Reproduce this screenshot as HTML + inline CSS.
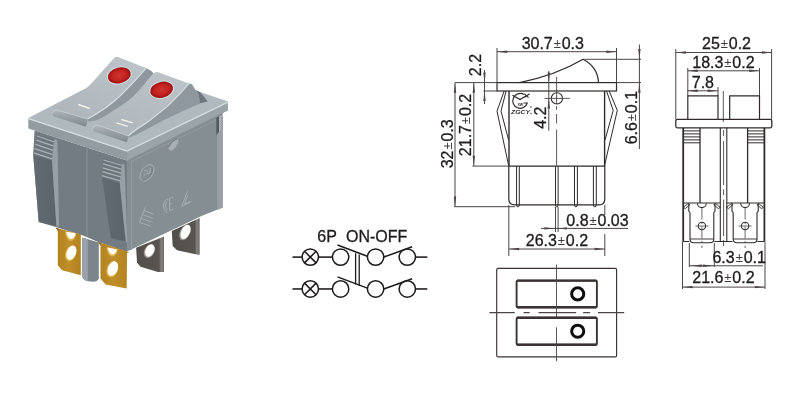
<!DOCTYPE html>
<html><head><meta charset="utf-8"><style>
html,body{margin:0;padding:0;background:#fff;overflow:hidden}
svg{display:block;will-change:transform}
text{font-family:"Liberation Sans",sans-serif}
</style></head><body>
<svg width="800" height="402" viewBox="0 0 800 402">
<rect width="800" height="402" fill="#fff"/>
<defs>
<linearGradient id="gTop1" x1="0" y1="1" x2="0.7" y2="0"><stop offset="0" stop-color="#adb5ba"/><stop offset="1" stop-color="#bcc3c8"/></linearGradient>
<linearGradient id="gTop2" x1="0" y1="1" x2="0.7" y2="0"><stop offset="0" stop-color="#adb5ba"/><stop offset="1" stop-color="#bcc3c8"/></linearGradient>
<linearGradient id="gLip" x1="0" y1="0" x2="0" y2="1"><stop offset="0" stop-color="#b2babf"/><stop offset="0.3" stop-color="#a0a8ae"/><stop offset="1" stop-color="#7f888e"/></linearGradient>
<radialGradient id="gLamp" cx="0.5" cy="0.5" r="0.5"><stop offset="0" stop-color="#cf3530"/><stop offset="0.65" stop-color="#c2221e"/><stop offset="1" stop-color="#981010"/></radialGradient>
<linearGradient id="gGold" x1="0" y1="0" x2="1" y2="0"><stop offset="0" stop-color="#b0811f"/><stop offset="0.5" stop-color="#bf8e2b"/><stop offset="1" stop-color="#b2821f"/></linearGradient>
<linearGradient id="gSil" x1="0" y1="0" x2="1" y2="0"><stop offset="0" stop-color="#524f4b"/><stop offset="0.82" stop-color="#585551"/><stop offset="0.9" stop-color="#85827d"/><stop offset="1" stop-color="#6d6a66"/></linearGradient>
<linearGradient id="gPost" x1="0" y1="0" x2="1" y2="0"><stop offset="0" stop-color="#9aa3a9"/><stop offset="0.4" stop-color="#8a939a"/><stop offset="1" stop-color="#737c83"/></linearGradient>
<linearGradient id="gClip" x1="0" y1="0" x2="1" y2="0"><stop offset="0" stop-color="#646c73"/><stop offset="1" stop-color="#5a626a"/></linearGradient>
</defs>
<polygon points="36.5,131 127,160.5 127,252 97,241.4 83.7,235.8 55.7,226.9 38.7,222 33.2,154 34.5,131" fill="#737c82" />
<line x1="87" y1="146" x2="87" y2="237" stroke="#7f8990" stroke-width="1.6"/>
<polygon points="127,150.5 228,101.5 228,110.5 222.7,113 222.7,207.5 201.5,216 127,251.5" fill="#858f93" />
<polyline points="131.5,250 131.5,161.5 216,120" fill="none" stroke="#939ca2" stroke-width="0.9"/>
<polygon points="28.3,118 127,150.5 127,160.5 28.3,128.5" fill="#929ca1" />
<polygon points="127,150.5 228,101.5 228,110.3 127,160.5" fill="#9aa4a9" />
<polygon points="37,134 55,139.5 53.5,160.5 33.2,154" fill="#6c757c" />
<line x1="37.0" y1="136.0" x2="54.5" y2="142.0" stroke="#a9b1b6" stroke-width="1.3"/>
<line x1="36.2" y1="140.2" x2="53.9" y2="146.2" stroke="#a9b1b6" stroke-width="1.3"/>
<line x1="35.4" y1="144.4" x2="53.3" y2="150.4" stroke="#a9b1b6" stroke-width="1.3"/>
<line x1="34.6" y1="148.6" x2="52.7" y2="154.6" stroke="#a9b1b6" stroke-width="1.3"/>
<line x1="33.8" y1="152.8" x2="52.1" y2="158.8" stroke="#a9b1b6" stroke-width="1.3"/>
<polygon points="33.2,154.5 52,160.5 56.4,226 38.7,222" fill="url(#gClip)" />
<polygon points="52,160.5 54.2,139 57.5,140.5 59,227 56.4,226" fill="#96a0a6" />
<polygon points="103.4,158 122.7,164 121.3,183.2 101.9,177.2" fill="#6c757c" />
<line x1="103.5" y1="160.0" x2="122.5" y2="165.5" stroke="#a9b1b6" stroke-width="1.3"/>
<line x1="103.1" y1="163.9" x2="122.2" y2="169.4" stroke="#a9b1b6" stroke-width="1.3"/>
<line x1="102.7" y1="167.8" x2="121.9" y2="173.3" stroke="#a9b1b6" stroke-width="1.3"/>
<line x1="102.3" y1="171.7" x2="121.6" y2="177.2" stroke="#a9b1b6" stroke-width="1.3"/>
<line x1="101.9" y1="175.6" x2="121.3" y2="181.1" stroke="#a9b1b6" stroke-width="1.3"/>
<polygon points="101.9,177.2 119.8,183.2 125.7,241.2 110.8,238.2" fill="url(#gClip)" />
<polygon points="119.8,183.2 122,163.8 124.5,164.5 127.4,244 125.7,241.2" fill="#96a0a6" />
<polygon points="217.3,131 222.7,129 222.7,207.5 217.3,210" fill="#97a0a6" />
<polygon points="216.3,117.7 219,116.5 219,131.5 216.3,135.5" fill="#525a61" />
<polygon points="219,116.5 222.7,114.5 222.7,129.5 219,131.5" fill="#a9b1b6" />
<line x1="221.3" y1="117.5" x2="222.9" y2="118.8" stroke="#69727a" stroke-width="0.8"/>
<line x1="221.3" y1="120.1" x2="222.9" y2="121.39999999999999" stroke="#69727a" stroke-width="0.8"/>
<line x1="221.3" y1="122.7" x2="222.9" y2="124.0" stroke="#69727a" stroke-width="0.8"/>
<line x1="221.3" y1="125.3" x2="222.9" y2="126.6" stroke="#69727a" stroke-width="0.8"/>
<line x1="221.3" y1="127.9" x2="222.9" y2="129.20000000000002" stroke="#69727a" stroke-width="0.8"/>
<polygon points="28.3,118 127,67 228,101.5 127,150.5" fill="#b0b9be" />
<polyline points="28.3,118.6 127,151.1 228,102.1" fill="none" stroke="#d4dde1" stroke-width="1.3"/>
<path d="M145.9,68 L151.4,70.9 L153.6,73.6 L147.6,80 C144,85 139,91 134.9,94.9 C131,98.5 126,102.5 120,106.9 C114,110.5 107,115 102.5,117.4 L95,120.7 L88,121.5 L88,118.8 C102,111 112,103.5 120,96 C131,85 141,74 145.9,68 Z" fill="#8f989e" />
<path d="M55,109.5 C66,102 80,95 87,88 C95,80 104,69 114.7,57.6 Q116,56.3 118,56.9 L145.9,68 C141,74 131,85 120,96 C112,103.5 102,111 88,118.8 Z" fill="url(#gTop1)" />
<path d="M145.9,68.3 C141,74 131,85 120,96 C112,103.5 102,111 88,118.8" fill="none" stroke="#d4dde1" stroke-width="1.25"/>
<path d="M55,109.5 L88,118.8 L86,126.8 L54,116.5 Q50.5,114.5 55,109.5 Z" fill="url(#gLip)" />
<path d="M52.5,113 Q52.5,110 56,109.8 L88,119" fill="none" stroke="#c6cdd1" stroke-width="0.9"/>
<path d="M97,124.6 C100,121 104,117.5 109.9,112.9 C115,109.5 121,106 127.5,101.6 C134,96 142,88 147.6,80 L153.6,73.6 Q155,71.8 157.5,72.1 L188.9,83.5 C184,89.5 176,98 170,103.9 C163,110.5 152,118.5 144.9,123.9 C139,127.5 132,132 128.5,136 Z" fill="url(#gTop2)" />
<path d="M188.9,83.5 L191.8,84 L198.8,94.9 L200,103.5 L182,111.5 L165,119.5 L135,135.3 L129,137.5 L128.5,136 C132,132 139,127.5 144.9,123.9 C152,118.5 163,110.5 170,103.9 C176,98 184,89.5 188.9,83.5 Z" fill="#8f989e" />
<path d="M188.9,83.7 C184,89.5 176,98 170,103.9 C163,110.5 152,118.5 144.9,123.9 C139,127.5 132,132 128.5,136" fill="none" stroke="#d4dde1" stroke-width="1.25"/>
<polygon points="196,90 200.5,92.5 207.7,101.5 200,103.2 198.8,94.9" fill="#6d767d" />
<path d="M97.5,124.9 L128.8,135.9 L126.8,142.3 L94,131.4 Q91,128 97.5,124.9 Z" fill="url(#gLip)" />
<path d="M92.5,128.5 Q93,125.3 97.5,125 L128.8,136" fill="none" stroke="#c6cdd1" stroke-width="0.9"/>
<ellipse cx="119.3" cy="75.4" rx="12.6" ry="8.9" transform="rotate(-14 119.3 75.4)" fill="#d3dde1"/>
<ellipse cx="119.3" cy="75.4" rx="11.6" ry="7.9" transform="rotate(-14 119.3 75.4)" fill="url(#gLamp)"/>
<ellipse cx="161.6" cy="89.8" rx="12.6" ry="8.9" transform="rotate(-14 161.6 89.8)" fill="#d3dde1"/>
<ellipse cx="161.6" cy="89.8" rx="11.6" ry="7.9" transform="rotate(-14 161.6 89.8)" fill="url(#gLamp)"/>
<line x1="78.3" y1="104.4" x2="89.8" y2="108.4" stroke="#f2f0e8" stroke-width="1.6"/>
<line x1="121.3" y1="119.5" x2="132.8" y2="122.9" stroke="#f2f0e8" stroke-width="1.5"/>
<line x1="116.4" y1="122.9" x2="127.8" y2="126.4" stroke="#f2f0e8" stroke-width="1.5"/>
<path d="M82.2,237.4 L98.8,242.6 L98.8,278.5 Q98,281.5 93,281.8 L88,281.2 Q82.5,280 82.2,276 Z" fill="#7c858b" />
<path d="M82.2,237.4 L87.8,239.2 L87.8,281.2 Q82.5,280 82.2,276 Z" fill="#9aa3a9" />
<path d="M55.6,227.8 L80.8,234.2 L80.8,275.3 L62.1,270.3 L57.8,265.2 L57.8,229.2 Z" fill="url(#gGold)" />
<path d="M55.6,227.8 L58.5,228.6 L58.5,231 L57.8,231 Z" fill="#8f6a1c" />
<path d="M65.2,231.5 Q66,240.5 70.7,241 Q75.5,240 76.2,233.2 Z" fill="#e2b850"/>
<path d="M66.2,231.7 Q67.5,238.5 71.5,239 Q75,237.5 75.6,233.3 Z" fill="#fff"/>
<ellipse cx="70.7" cy="253.4" rx="5.2" ry="8" transform="rotate(20 70.7 253.4)" fill="#e0b44a"/>
<ellipse cx="71.4" cy="252.6" rx="4.6" ry="7.4" transform="rotate(20 71.4 252.6)" fill="#fff"/>
<path d="M97.9,241.8 L129.3,252.2 L127,253 L126.7,288.5 L105.7,284.5 L100.5,278.4 L100.5,243 Z" fill="url(#gGold)" />
<path d="M97.9,241.8 L100.9,242.7 L100.9,245.5 L100.3,245.5 Z" fill="#8f6a1c" />
<path d="M106.6,247.3 Q107.5,256 112,256.6 Q117,255.6 117.6,249.4 Z" fill="#e2b850"/>
<path d="M107.6,247.6 Q109,254.2 112.8,254.6 Q116.4,253.4 117,249.5 Z" fill="#fff"/>
<ellipse cx="112.2" cy="269.4" rx="5.5" ry="8.2" transform="rotate(20 112.2 269.4)" fill="#e0b44a"/>
<ellipse cx="112.9" cy="268.6" rx="4.9" ry="7.5" transform="rotate(20 112.9 268.6)" fill="#fff"/>
<path d="M136.1,247.7 L164,236.4 L164,272.1 L157.9,272.1 L140.5,266.8 L137,262.5 Z" fill="url(#gSil)" />
<ellipse cx="149.2" cy="251.2" rx="5" ry="7.2" transform="rotate(25 149.2 251.2)" fill="#9a958e"/>
<ellipse cx="149.9" cy="250.5" rx="4.3" ry="6.5" transform="rotate(25 149.9 250.5)" fill="#fff"/>
<path d="M171.8,231.1 L199.7,218.1 L199.7,254.7 L198,254.7 L177,250.3 L172.7,245.9 Z" fill="url(#gSil)" />
<ellipse cx="184.9" cy="232.5" rx="5" ry="8.3" transform="rotate(25 184.9 232.5)" fill="#9a958e"/>
<ellipse cx="185.6" cy="231.8" rx="4.3" ry="7.6" transform="rotate(25 185.6 231.8)" fill="#fff"/>
<ellipse cx="146.9" cy="172.9" rx="9.3" ry="5.6" transform="rotate(-55 146.9 172.9)" fill="none" stroke="#a7b0b5" stroke-width="0.9"/>
<path d="M152,167 A9.3,5.6 -55 0 1 142,180" transform="translate(0.6,0.4)" fill="none" stroke="#6e787d" stroke-width="0.7"/>
<path d="M143.5,176 Q146,172 149,174 Q151,171 150,168 M144,171 Q147,169 148,172" fill="none" stroke="#a7b0b5" stroke-width="0.9"/>
<path d="M168.5,199 Q164,199.5 163.5,205 Q163.5,211.5 167.5,212.5 M167,201.5 Q165.5,202.5 165.5,205.5 Q165.5,209 167.2,210" fill="none" stroke="#a7b0b5" stroke-width="0.9"/>
<path d="M173.5,197 L169.5,198.5 L169.5,210.5 L173.5,209 M169.5,204.3 L172.5,203.3" fill="none" stroke="#a7b0b5" stroke-width="0.9"/>
<path d="M187.8,190.5 L181.6,206.5 L191.8,201.5 Z M187.5,195.5 L184.6,203.8 L189.6,201.6" fill="none" stroke="#a7b0b5" stroke-width="0.9"/>
<path d="M187.8,190.5 L191.8,201.5" fill="none" stroke="#6e787d" stroke-width="0.7"/>
<path d="M139.5,222.5 L145.5,206.5 L155.8,210.5 L150.5,226 Z M141.5,218.5 L152.3,222.3 M143,214.7 L153.6,218.6 M144.3,210.8 L154.8,214.6" fill="none" stroke="#a7b0b5" stroke-width="0.9"/>
<path d="M145.5,206.5 L155.8,210.5 L150.5,226" fill="none" stroke="#6e787d" stroke-width="0.7"/>
<path d="M177.5,138.5 Q171,141 168.3,147.5 Q168.5,151 171.5,150.5 Q177,147.5 178.3,141.5 Z" fill="#a8b0b5"/>
<path d="M177.5,138.5 Q171,141 168.3,147.5" fill="none" stroke="#6a737a" stroke-width="0.9"/>
<line x1="497" y1="51.7" x2="616.5" y2="51.7" stroke="#4d4547" stroke-width="1.0" />
<polygon points="497.20,51.70 507.20,50.50 507.20,52.90" fill="#4d4547"/>
<polygon points="616.30,51.70 606.30,52.90 606.30,50.50" fill="#4d4547"/>
<text x="552.8" y="49" font-size="16" text-anchor="middle" fill="#1e1b1c" stroke="#1e1b1c" stroke-width="0.3" >30.7<tspan font-size="13" dx="0.9" dy="-1" fill="#3e393a" stroke="none">&#177;</tspan><tspan dx="0.9" dy="1">0.3</tspan></text>
<line x1="497" y1="48" x2="497" y2="83" stroke="#4d4547" stroke-width="1.0" />
<line x1="616.5" y1="48" x2="616.5" y2="83" stroke="#4d4547" stroke-width="1.0" />
<rect x="497" y="82.6" width="119.5" height="8.4" fill="none" stroke="#302a2b" stroke-width="1.2"/>
<line x1="455" y1="82.6" x2="497" y2="82.6" stroke="#4d4547" stroke-width="1.0" />
<line x1="483.5" y1="91" x2="497" y2="91" stroke="#4d4547" stroke-width="1.0" />
<line x1="484.5" y1="70" x2="484.5" y2="104" stroke="#4d4547" stroke-width="1.0" />
<polygon points="484.50,82.60 483.30,72.60 485.70,72.60" fill="#4d4547"/>
<polygon points="484.50,91.00 485.70,101.00 483.30,101.00" fill="#4d4547"/>
<text x="0" y="0" transform="translate(481,65) rotate(-90)" font-size="16" text-anchor="middle" fill="#1e1b1c" stroke="#1e1b1c" stroke-width="0.3" >2.2</text>
<line x1="473.8" y1="82.6" x2="473.8" y2="166" stroke="#4d4547" stroke-width="1.0" />
<polygon points="473.80,82.80 475.00,92.80 472.60,92.80" fill="#4d4547"/>
<polygon points="473.80,165.80 472.60,155.80 475.00,155.80" fill="#4d4547"/>
<text x="0" y="0" transform="translate(471.3,125) rotate(-90)" font-size="16" text-anchor="middle" fill="#1e1b1c" stroke="#1e1b1c" stroke-width="0.3" >21.7<tspan font-size="13" dx="0.9" dy="-1" fill="#3e393a" stroke="none">&#177;</tspan><tspan dx="0.9" dy="1">0.2</tspan></text>
<line x1="455" y1="82.6" x2="455" y2="206.6" stroke="#4d4547" stroke-width="1.0" />
<polygon points="455.00,82.80 456.20,92.80 453.80,92.80" fill="#4d4547"/>
<polygon points="455.00,206.40 453.80,196.40 456.20,196.40" fill="#4d4547"/>
<text x="0" y="0" transform="translate(452.6,143.8) rotate(-90)" font-size="16" text-anchor="middle" fill="#1e1b1c" stroke="#1e1b1c" stroke-width="0.3" >32<tspan font-size="13" dx="0.9" dy="-1" fill="#3e393a" stroke="none">&#177;</tspan><tspan dx="0.9" dy="1">0.3</tspan></text>
<line x1="472.5" y1="166.1" x2="509" y2="166.1" stroke="#4d4547" stroke-width="1.0" />
<line x1="454" y1="206.7" x2="515" y2="206.7" stroke="#4d4547" stroke-width="1.0" />
<path d="M519.5,82.6 C540,78.5 565,70 583,59.3 C592,64 598,72 598.5,82.6" fill="none" stroke="#302a2b" stroke-width="1.2"/>
<line x1="584.5" y1="59.3" x2="641" y2="59.3" stroke="#4d4547" stroke-width="1.0" />
<line x1="616.5" y1="82.6" x2="641" y2="82.6" stroke="#4d4547" stroke-width="1.0" />
<line x1="639.4" y1="44.5" x2="639.4" y2="149" stroke="#4d4547" stroke-width="1.0" />
<polygon points="639.40,59.10 638.20,49.10 640.60,49.10" fill="#4d4547"/>
<polygon points="639.40,82.80 640.60,92.80 638.20,92.80" fill="#4d4547"/>
<text x="0" y="0" transform="translate(637,117.6) rotate(-90)" font-size="16" text-anchor="middle" fill="#1e1b1c" stroke="#1e1b1c" stroke-width="0.3" >6.6<tspan font-size="13" dx="0.9" dy="-1" fill="#3e393a" stroke="none">&#177;</tspan><tspan dx="0.9" dy="1">0.1</tspan></text>
<line x1="548.8" y1="71" x2="548.8" y2="130.6" stroke="#4d4547" stroke-width="1.0" />
<polygon points="548.80,82.40 547.60,72.40 550.00,72.40" fill="#4d4547"/>
<polygon points="548.80,98.60 550.00,108.60 547.60,108.60" fill="#4d4547"/>
<text x="0" y="0" transform="translate(546.3,117.7) rotate(-90)" font-size="16" text-anchor="middle" fill="#1e1b1c" stroke="#1e1b1c" stroke-width="0.3" >4.2</text>
<circle cx="556.9" cy="98.4" r="5.6" fill="none" stroke="#302a2b" stroke-width="1.1"/>
<line x1="544.4" y1="98.4" x2="569.8" y2="98.4" stroke="#4d4547" stroke-width="0.9" />
<line x1="556.6" y1="77" x2="556.6" y2="104" stroke="#4d4547" stroke-width="0.9" />
<line x1="556.6" y1="106" x2="556.6" y2="109.5" stroke="#4d4547" stroke-width="0.9" />
<line x1="556.6" y1="114" x2="556.6" y2="123.5" stroke="#4d4547" stroke-width="0.9" />
<line x1="556.6" y1="129.5" x2="556.6" y2="165.5" stroke="#4d4547" stroke-width="0.9" />
<polyline points="504.2,91 497,111.1 508.6,165.4" fill="none" stroke="#302a2b" stroke-width="1.0"/>
<polyline points="506.1,91 501,111.1 508.6,140" fill="none" stroke="#302a2b" stroke-width="1.0"/>
<polyline points="609.2,91 617.3,110.4 604.6,165.2" fill="none" stroke="#302a2b" stroke-width="1.0"/>
<polyline points="606.5,91 613.2,110.4 605.1,139.8" fill="none" stroke="#302a2b" stroke-width="1.0"/>
<line x1="509" y1="91" x2="509" y2="166.1" stroke="#302a2b" stroke-width="1.4" />
<line x1="604.6" y1="91" x2="604.6" y2="166.1" stroke="#302a2b" stroke-width="1.4" />
<path d="M508.8,166.1 L508.8,199 Q508.8,204.9 515,204.9 L599,204.9 Q604.8,204.9 604.8,199 L604.8,166.1 Z" fill="none" stroke="#302a2b" stroke-width="1.2"/>
<path d="M516.6,166.1 L516.6,205 Q516.6,206.8 517.95,206.8 Q519.3,206.8 519.3,205 L519.3,166.1" fill="none" stroke="#302a2b" stroke-width="1.0"/>
<path d="M555.5,166.1 L555.5,205 Q555.5,206.8 556.8,206.8 Q558.1,206.8 558.1,205 L558.1,166.1" fill="none" stroke="#302a2b" stroke-width="1.0"/>
<path d="M574.5,166.1 L574.5,205 Q574.5,206.8 575.95,206.8 Q577.4,206.8 577.4,205 L577.4,166.1" fill="none" stroke="#302a2b" stroke-width="1.0"/>
<path d="M593.4,166.1 L593.4,205 Q593.4,206.8 594.8499999999999,206.8 Q596.3,206.8 596.3,205 L596.3,166.1" fill="none" stroke="#302a2b" stroke-width="1.0"/>
<line x1="508.8" y1="205" x2="508.8" y2="256" stroke="#4d4547" stroke-width="1.0" />
<line x1="604.8" y1="205" x2="604.8" y2="215" stroke="#4d4547" stroke-width="1.0" />
<line x1="604.8" y1="234" x2="604.8" y2="256" stroke="#4d4547" stroke-width="1.0" />
<line x1="509" y1="249" x2="604.8" y2="249" stroke="#4d4547" stroke-width="1.0" />
<polygon points="509.20,249.00 519.20,247.80 519.20,250.20" fill="#4d4547"/>
<polygon points="604.60,249.00 594.60,250.20 594.60,247.80" fill="#4d4547"/>
<text x="556.9" y="246.4" font-size="16" text-anchor="middle" fill="#1e1b1c" stroke="#1e1b1c" stroke-width="0.3" >26.3<tspan font-size="13" dx="0.9" dy="-1" fill="#3e393a" stroke="none">&#177;</tspan><tspan dx="0.9" dy="1">0.2</tspan></text>
<line x1="555.5" y1="207" x2="555.5" y2="232" stroke="#4d4547" stroke-width="1.0" />
<line x1="558.1" y1="207" x2="558.1" y2="232" stroke="#4d4547" stroke-width="1.0" />
<line x1="541" y1="228.4" x2="628" y2="228.4" stroke="#4d4547" stroke-width="1.0" />
<polygon points="555.30,228.40 544.30,229.60 544.30,227.20" fill="#4d4547"/>
<polygon points="558.30,228.40 566.80,227.20 566.80,229.60" fill="#4d4547"/>
<text x="597.5" y="225.8" font-size="16" text-anchor="middle" fill="#1e1b1c" stroke="#1e1b1c" stroke-width="0.3" >0.8<tspan font-size="13" dx="0.9" dy="-1" fill="#3e393a" stroke="none">&#177;</tspan><tspan dx="0.9" dy="1">0.03</tspan></text>
<g stroke="#302a2b" fill="none" stroke-width="1.15"><path d="M523.8,94.4 A7.4,7.4 0 1 0 527.3,103 L523.6,103"/><path d="M512.4,95.2 L520,99.6 L526.6,95.4 M524.2,93.6 L528.6,97.6 M524.6,97.2 L529.6,93.8"/></g>
<text x="520.3" y="106.3" font-size="3.6" font-weight="bold" text-anchor="middle" fill="#302a2b">XW</text>
<text x="520.5" y="114.4" font-size="6" font-weight="bold" font-style="italic" text-anchor="middle" fill="#302a2b" transform="translate(520.5,0) scale(1.15,1) translate(-520.5,0)">ZGCY</text>
<circle cx="530.8" cy="107" r="1" fill="#888"/><circle cx="531" cy="113.5" r="0.9" fill="#888"/>
<line x1="675.8" y1="52.5" x2="772" y2="52.5" stroke="#4d4547" stroke-width="1.0" />
<polygon points="676.00,52.50 686.00,51.30 686.00,53.70" fill="#4d4547"/>
<polygon points="771.80,52.50 761.80,53.70 761.80,51.30" fill="#4d4547"/>
<text x="726.5" y="48.6" font-size="16" text-anchor="middle" fill="#1e1b1c" stroke="#1e1b1c" stroke-width="0.3" >25<tspan font-size="13" dx="0.9" dy="-1" fill="#3e393a" stroke="none">&#177;</tspan><tspan dx="0.9" dy="1">0.2</tspan></text>
<line x1="687.5" y1="70.8" x2="759.3" y2="70.8" stroke="#4d4547" stroke-width="1.0" />
<polygon points="687.70,70.80 697.70,69.60 697.70,72.00" fill="#4d4547"/>
<polygon points="759.10,70.80 749.10,72.00 749.10,69.60" fill="#4d4547"/>
<text x="723.4" y="68" font-size="16" text-anchor="middle" fill="#1e1b1c" stroke="#1e1b1c" stroke-width="0.3" >18.3<tspan font-size="13" dx="0.9" dy="-1" fill="#3e393a" stroke="none">&#177;</tspan><tspan dx="0.9" dy="1">0.2</tspan></text>
<line x1="687.5" y1="90.8" x2="717.8" y2="90.8" stroke="#4d4547" stroke-width="1.0" />
<polygon points="687.70,90.80 697.70,89.60 697.70,92.00" fill="#4d4547"/>
<polygon points="717.60,90.80 707.60,92.00 707.60,89.60" fill="#4d4547"/>
<text x="702.9" y="87.6" font-size="16" text-anchor="middle" fill="#1e1b1c" stroke="#1e1b1c" stroke-width="0.3" >7.8</text>
<line x1="675.8" y1="49" x2="675.8" y2="119.4" stroke="#4d4547" stroke-width="1.0" />
<line x1="771.6" y1="49" x2="771.6" y2="119.4" stroke="#4d4547" stroke-width="1.0" />
<line x1="687.8" y1="68" x2="687.8" y2="96" stroke="#4d4547" stroke-width="1.0" />
<line x1="759.5" y1="68" x2="759.5" y2="96" stroke="#4d4547" stroke-width="1.0" />
<line x1="718" y1="87" x2="718" y2="96" stroke="#4d4547" stroke-width="1.0" />
<path d="M687.8,119.4 L687.8,95.8 L718,95.8 L718,119.4 M729.7,119.4 L729.7,95.8 L759.5,95.8 L759.5,119.4" fill="none" stroke="#302a2b" stroke-width="1.2"/>
<line x1="723.3" y1="91" x2="723.3" y2="122" stroke="#4d4547" stroke-width="0.9" />
<rect x="675.8" y="119.3" width="96" height="8.5" rx="1.5" fill="none" stroke="#302a2b" stroke-width="1.3"/>
<line x1="683.2" y1="127.8" x2="683.2" y2="241.5" stroke="#302a2b" stroke-width="1.8" />
<line x1="700" y1="127.8" x2="700" y2="203" stroke="#302a2b" stroke-width="1.3" />
<line x1="720.3" y1="127.8" x2="720.3" y2="241.5" stroke="#302a2b" stroke-width="1.1" />
<line x1="726.8" y1="127.8" x2="726.8" y2="241.5" stroke="#302a2b" stroke-width="1.1" />
<line x1="747.6" y1="127.8" x2="747.6" y2="203" stroke="#302a2b" stroke-width="1.3" />
<line x1="764.4" y1="127.8" x2="764.4" y2="241.5" stroke="#302a2b" stroke-width="1.8" />
<line x1="683.2" y1="130.9" x2="700" y2="130.9" stroke="#302a2b" stroke-width="1.0" />
<line x1="747.6" y1="130.9" x2="764.4" y2="130.9" stroke="#302a2b" stroke-width="1.0" />
<line x1="683.2" y1="133.9" x2="700" y2="133.9" stroke="#302a2b" stroke-width="1.0" />
<line x1="747.6" y1="133.9" x2="764.4" y2="133.9" stroke="#302a2b" stroke-width="1.0" />
<line x1="683.2" y1="136.9" x2="700" y2="136.9" stroke="#302a2b" stroke-width="1.0" />
<line x1="747.6" y1="136.9" x2="764.4" y2="136.9" stroke="#302a2b" stroke-width="1.0" />
<line x1="683.2" y1="139.9" x2="700" y2="139.9" stroke="#302a2b" stroke-width="1.0" />
<line x1="747.6" y1="139.9" x2="764.4" y2="139.9" stroke="#302a2b" stroke-width="1.0" />
<line x1="683.2" y1="142.8" x2="700" y2="142.8" stroke="#302a2b" stroke-width="1.0" />
<line x1="747.6" y1="142.8" x2="764.4" y2="142.8" stroke="#302a2b" stroke-width="1.0" />
<line x1="723.6" y1="130" x2="723.6" y2="136" stroke="#4d4547" stroke-width="0.9" />
<line x1="723.6" y1="141" x2="723.6" y2="185" stroke="#4d4547" stroke-width="0.9" />
<line x1="723.6" y1="189.3" x2="723.6" y2="195" stroke="#4d4547" stroke-width="0.9" />
<line x1="723.6" y1="199.6" x2="723.6" y2="236" stroke="#4d4547" stroke-width="0.9" />
<line x1="723.6" y1="240" x2="723.6" y2="246" stroke="#4d4547" stroke-width="0.9" />
<line x1="683.2" y1="203" x2="720.3" y2="203" stroke="#302a2b" stroke-width="1.2" />
<line x1="726.8" y1="203" x2="764.4" y2="203" stroke="#302a2b" stroke-width="1.2" />
<path d="M688.8,203.5 L688.8,211.1 L690.0,212.8 L690.0,239 Q690.0,242.8 693.9,242.8 L709.9,242.8 Q713.8,242.8 713.8,239 L713.8,212.8 L715.0,211.1 L715.0,203.5" fill="none" stroke="#302a2b" stroke-width="1.1"/>
<line x1="690.0" y1="239" x2="713.8" y2="239" stroke="#302a2b" stroke-width="0.9" />
<path d="M697.5,203.2 A4.4,4.4 0 0 0 706.3,203.2" fill="none" stroke="#302a2b" stroke-width="1.1"/>
<circle cx="701.9" cy="226" r="3.7" fill="none" stroke="#302a2b" stroke-width="1.1"/>
<line x1="695.4" y1="226" x2="708.4" y2="226" stroke="#4d4547" stroke-width="0.8" />
<line x1="701.9" y1="207.5" x2="701.9" y2="248" stroke="#4d4547" stroke-width="0.8" stroke-dasharray="12,2.5,2,2.5"/>
<path d="M683.3,207.3 L688.1999999999999,203.5 L689.9,204.6 L685.3,208.6 Z M720.3,207.3 L715.4,203.5 L713.6999999999999,204.6 L718.3,208.6 Z" fill="none" stroke="#302a2b" stroke-width="0.9"/>
<path d="M732.0,203.5 L732.0,211.1 L733.2,212.8 L733.2,239 Q733.2,242.8 737.1,242.8 L753.1,242.8 Q757.0,242.8 757.0,239 L757.0,212.8 L758.2,211.1 L758.2,203.5" fill="none" stroke="#302a2b" stroke-width="1.1"/>
<line x1="733.2" y1="239" x2="757.0" y2="239" stroke="#302a2b" stroke-width="0.9" />
<path d="M740.7,203.2 A4.4,4.4 0 0 0 749.5,203.2" fill="none" stroke="#302a2b" stroke-width="1.1"/>
<circle cx="745.1" cy="226" r="3.7" fill="none" stroke="#302a2b" stroke-width="1.1"/>
<line x1="738.6" y1="226" x2="751.6" y2="226" stroke="#4d4547" stroke-width="0.8" />
<line x1="745.1" y1="207.5" x2="745.1" y2="248" stroke="#4d4547" stroke-width="0.8" stroke-dasharray="12,2.5,2,2.5"/>
<path d="M726.5,207.3 L731.4,203.5 L733.1,204.6 L728.5,208.6 Z M763.5,207.3 L758.6,203.5 L756.9,204.6 L761.5,208.6 Z" fill="none" stroke="#302a2b" stroke-width="0.9"/>
<line x1="683.2" y1="241.5" x2="689.3" y2="241.5" stroke="#302a2b" stroke-width="1.0" />
<line x1="714.3" y1="241.5" x2="732.4" y2="241.5" stroke="#302a2b" stroke-width="1.0" />
<line x1="757.4" y1="241.5" x2="764.4" y2="241.5" stroke="#302a2b" stroke-width="1.0" />
<line x1="682.5" y1="241.5" x2="682.5" y2="289" stroke="#4d4547" stroke-width="1.0" />
<line x1="765" y1="241.5" x2="765" y2="289" stroke="#4d4547" stroke-width="1.0" />
<line x1="689.3" y1="243" x2="689.3" y2="267" stroke="#4d4547" stroke-width="1.0" />
<line x1="714.3" y1="243" x2="714.3" y2="267" stroke="#4d4547" stroke-width="1.0" />
<line x1="689.3" y1="265.8" x2="763" y2="265.8" stroke="#4d4547" stroke-width="1.0" />
<polygon points="690.40,265.80 701.90,264.55 701.90,267.05" fill="#4d4547"/>
<polygon points="714.10,265.80 702.80,267.05 702.80,264.55" fill="#4d4547"/>
<text x="739.2" y="262.5" font-size="16" text-anchor="middle" fill="#1e1b1c" stroke="#1e1b1c" stroke-width="0.3" >6.3<tspan font-size="13" dx="0.9" dy="-1" fill="#3e393a" stroke="none">&#177;</tspan><tspan dx="0.9" dy="1">0.1</tspan></text>
<line x1="682.5" y1="287.1" x2="765" y2="287.1" stroke="#4d4547" stroke-width="1.0" />
<polygon points="682.70,287.10 692.70,285.90 692.70,288.30" fill="#4d4547"/>
<polygon points="764.80,287.10 754.80,288.30 754.80,285.90" fill="#4d4547"/>
<text x="723.4" y="283" font-size="16" text-anchor="middle" fill="#1e1b1c" stroke="#1e1b1c" stroke-width="0.3" >21.6<tspan font-size="13" dx="0.9" dy="-1" fill="#3e393a" stroke="none">&#177;</tspan><tspan dx="0.9" dy="1">0.2</tspan></text>
<rect x="496.7" y="268.3" width="119.9" height="88.6" rx="1.5" fill="none" stroke="#3a3334" stroke-width="1.15"/>
<rect x="516.6" y="280.6" width="80.3" height="26.599999999999966" rx="1" fill="none" stroke="#3a3334" stroke-width="1.9"/>
<path d="M517,280.6 L596.5,280.6 M517,307.2 L596.5,307.2" stroke="#3a3334" stroke-width="2.4"/>
<circle cx="577.7" cy="293.9" r="6.05" fill="none" stroke="#0f0d0d" stroke-width="3.0"/>
<rect x="516.6" y="317.7" width="80.3" height="27.0" rx="1" fill="none" stroke="#3a3334" stroke-width="1.9"/>
<path d="M517,317.7 L596.5,317.7 M517,344.7 L596.5,344.7" stroke="#3a3334" stroke-width="2.4"/>
<circle cx="577.7" cy="331.2" r="6.05" fill="none" stroke="#0f0d0d" stroke-width="3.0"/>
<line x1="556.5" y1="264.5" x2="556.5" y2="316.8" stroke="#4d4547" stroke-width="0.9" />
<line x1="556.5" y1="327.3" x2="556.5" y2="361.3" stroke="#4d4547" stroke-width="0.9" />
<line x1="489.4" y1="312.6" x2="624.2" y2="312.6" stroke="#4d4547" stroke-width="1.1" stroke-dasharray="25.4,8.8,6.1,8.8,37.6,7,7,7.9,26.2"/>
<text x="327.1" y="241.8" font-size="16" text-anchor="middle" fill="#1e1b1c" stroke="#1e1b1c" stroke-width="0.3" >6P</text>
<text x="376.7" y="241.6" font-size="16" text-anchor="middle" fill="#1e1b1c" stroke="#1e1b1c" stroke-width="0.3" >ON-OFF</text>
<line x1="292.5" y1="257.1" x2="302.1" y2="257.1" stroke="#1e1b1c" stroke-width="1.55" fill="none"/>
<circle cx="310.3" cy="257.1" r="8.2" stroke="#1e1b1c" stroke-width="1.55" fill="none"/>
<path d="M304.50178,251.30178000000004 L316.09822,262.89822000000004 M304.50178,262.89822000000004 L316.09822,251.30178000000004" stroke="#1e1b1c" stroke-width="1.55" fill="none"/>
<line x1="318.5" y1="257.1" x2="332.4" y2="257.1" stroke="#1e1b1c" stroke-width="1.55" fill="none"/>
<circle cx="340.6" cy="257.1" r="8.2" stroke="#1e1b1c" stroke-width="1.55" fill="none"/>
<line x1="337.5" y1="245.00000000000003" x2="367.4" y2="256.3" stroke="#1e1b1c" stroke-width="1.55" fill="none"/>
<circle cx="375.6" cy="257.1" r="8.2" stroke="#1e1b1c" stroke-width="1.55" fill="none"/>
<line x1="383.8" y1="257.1" x2="412.2" y2="246.8" stroke="#1e1b1c" stroke-width="1.55" fill="none"/>
<circle cx="407.3" cy="257.1" r="8.2" stroke="#1e1b1c" stroke-width="1.55" fill="none"/>
<line x1="415.5" y1="257.1" x2="427.3" y2="257.1" stroke="#1e1b1c" stroke-width="1.55" fill="none"/>
<line x1="292.5" y1="288.95" x2="302.1" y2="288.95" stroke="#1e1b1c" stroke-width="1.55" fill="none"/>
<circle cx="310.3" cy="288.95" r="8.2" stroke="#1e1b1c" stroke-width="1.55" fill="none"/>
<path d="M304.50178,283.15178 L316.09822,294.74822 M304.50178,294.74822 L316.09822,283.15178" stroke="#1e1b1c" stroke-width="1.55" fill="none"/>
<line x1="318.5" y1="288.95" x2="332.4" y2="288.95" stroke="#1e1b1c" stroke-width="1.55" fill="none"/>
<circle cx="340.6" cy="288.95" r="8.2" stroke="#1e1b1c" stroke-width="1.55" fill="none"/>
<line x1="337.5" y1="276.84999999999997" x2="367.4" y2="288.15" stroke="#1e1b1c" stroke-width="1.55" fill="none"/>
<circle cx="375.6" cy="288.95" r="8.2" stroke="#1e1b1c" stroke-width="1.55" fill="none"/>
<line x1="383.8" y1="288.95" x2="412.2" y2="278.65" stroke="#1e1b1c" stroke-width="1.55" fill="none"/>
<circle cx="407.3" cy="288.95" r="8.2" stroke="#1e1b1c" stroke-width="1.55" fill="none"/>
<line x1="415.5" y1="288.95" x2="427.3" y2="288.95" stroke="#1e1b1c" stroke-width="1.55" fill="none"/>
<path d="M355.6,253.2 L355.6,284.6 M359.2,254.5 L359.2,285.9" stroke="#1e1b1c" stroke-width="1.3" fill="none"/>
</svg>
</body></html>
